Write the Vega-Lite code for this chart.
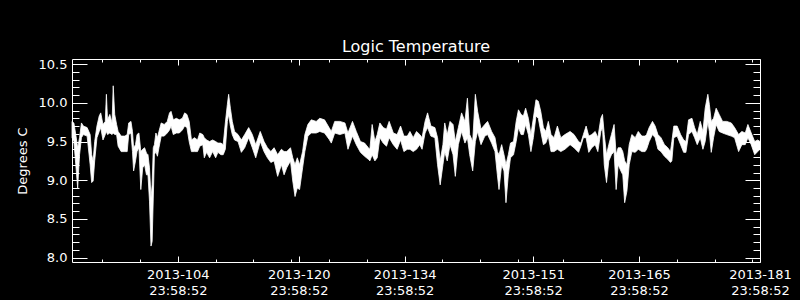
{
  "$schema": "https://vega.github.io/schema/vega-lite/v6.json",
  "width": 688,
  "height": 203,
  "autosize": {"type": "none"},
  "padding": {"left": 72, "top": 59, "right": 40, "bottom": 38},
  "background": "black",
  "title": {"text": "Logic Temperature", "color": "white", "font": "DejaVu Sans", "fontSize": 16, "fontWeight": "normal", "offset": 7, "dy": 17, "baseline": "alphabetic", "anchor": "middle", "frame": "group"},
  "config": {
    "view": {"stroke": null},
    "axis": {"grid": false, "tickColor": "white", "domainColor": "white", "labelColor": "white", "titleColor": "white", "labelFont": "DejaVu Sans", "titleFont": "DejaVu Sans", "tickWidth": 1, "domainWidth": 1}
  },
  "data": {"values": [
    {"day":90.0,"hi":9.76,"lo":9.55},{"day":90.25,"hi":9.74,"lo":9.50},{"day":90.5,"hi":9.59,"lo":9.20},{"day":90.75,"hi":9.42,"lo":8.90},
    {"day":91.0,"hi":9.55,"lo":9.33},{"day":91.25,"hi":9.74,"lo":9.55},{"day":91.5,"hi":9.70,"lo":9.59},{"day":92.0,"hi":9.68,"lo":9.57},
    {"day":92.4,"hi":9.59,"lo":9.20},{"day":92.6,"hi":9.33,"lo":8.97},{"day":92.8,"hi":9.25,"lo":8.99},{"day":93.0,"hi":9.50,"lo":9.25},
    {"day":93.3,"hi":9.70,"lo":9.55},{"day":93.6,"hi":9.83,"lo":9.63},{"day":93.8,"hi":9.87,"lo":9.68},{"day":94.1,"hi":9.72,"lo":9.52},
    {"day":94.4,"hi":9.76,"lo":9.59},{"day":94.55,"hi":10.11,"lo":9.63},{"day":94.7,"hi":9.78,"lo":9.59},{"day":95.0,"hi":9.85,"lo":9.61},
    {"day":95.3,"hi":9.74,"lo":9.59},{"day":95.45,"hi":10.22,"lo":9.61},{"day":95.65,"hi":9.85,"lo":9.59},{"day":95.9,"hi":9.72,"lo":9.59},
    {"day":96.1,"hi":9.63,"lo":9.44},{"day":96.5,"hi":9.57,"lo":9.37},{"day":97.0,"hi":9.57,"lo":9.37},{"day":97.3,"hi":9.59,"lo":9.37},
    {"day":97.5,"hi":9.74,"lo":9.59},{"day":97.8,"hi":9.76,"lo":9.61},{"day":98.0,"hi":9.63,"lo":9.37},{"day":98.15,"hi":9.42,"lo":9.12},
    {"day":98.4,"hi":9.46,"lo":9.25},{"day":98.6,"hi":9.59,"lo":9.37},{"day":98.85,"hi":9.61,"lo":9.42},{"day":99.1,"hi":9.37,"lo":8.88},
    {"day":99.35,"hi":9.40,"lo":9.16},{"day":99.6,"hi":9.42,"lo":9.20},{"day":99.85,"hi":9.35,"lo":9.07},{"day":100.05,"hi":9.33,"lo":9.07},
    {"day":100.25,"hi":9.16,"lo":8.73},{"day":100.45,"hi":8.77,"lo":8.15},{"day":100.6,"hi":8.94,"lo":8.21},{"day":100.75,"hi":9.42,"lo":8.77},
    {"day":100.9,"hi":9.46,"lo":9.33},{"day":101.1,"hi":9.61,"lo":9.37},{"day":101.3,"hi":9.55,"lo":9.31},{"day":101.5,"hi":9.63,"lo":9.42},
    {"day":101.8,"hi":9.74,"lo":9.57},{"day":102.2,"hi":9.72,"lo":9.57},{"day":102.6,"hi":9.76,"lo":9.61},{"day":102.9,"hi":9.87,"lo":9.65},
    {"day":103.1,"hi":9.89,"lo":9.70},{"day":103.4,"hi":9.78,"lo":9.59},{"day":103.8,"hi":9.80,"lo":9.61},{"day":104.2,"hi":9.78,"lo":9.61},
    {"day":104.6,"hi":9.80,"lo":9.65},{"day":104.9,"hi":9.87,"lo":9.70},{"day":105.2,"hi":9.85,"lo":9.68},{"day":105.5,"hi":9.76,"lo":9.50},
    {"day":105.8,"hi":9.52,"lo":9.37},{"day":106.2,"hi":9.55,"lo":9.37},{"day":106.6,"hi":9.52,"lo":9.37},{"day":106.9,"hi":9.61,"lo":9.44},
    {"day":107.3,"hi":9.59,"lo":9.46},{"day":107.5,"hi":9.55,"lo":9.29},{"day":107.8,"hi":9.52,"lo":9.36},{"day":108.2,"hi":9.50,"lo":9.29},
    {"day":108.6,"hi":9.52,"lo":9.37},{"day":109.0,"hi":9.50,"lo":9.29},{"day":109.3,"hi":9.48,"lo":9.36},{"day":109.7,"hi":9.48,"lo":9.33},
    {"day":110.0,"hi":9.46,"lo":9.33},{"day":110.28,"hi":9.74,"lo":9.40},{"day":110.55,"hi":9.98,"lo":9.76},{"day":110.72,"hi":10.11,"lo":9.85},
    {"day":110.95,"hi":9.93,"lo":9.70},{"day":111.2,"hi":9.76,"lo":9.59},{"day":111.5,"hi":9.63,"lo":9.52},{"day":111.96,"hi":9.59,"lo":9.50},
    {"day":112.4,"hi":9.52,"lo":9.36},{"day":112.84,"hi":9.59,"lo":9.42},{"day":113.37,"hi":9.68,"lo":9.55},{"day":113.85,"hi":9.59,"lo":9.42},
    {"day":114.3,"hi":9.46,"lo":9.29},{"day":114.9,"hi":9.63,"lo":9.50},{"day":115.4,"hi":9.50,"lo":9.37},{"day":115.85,"hi":9.42,"lo":9.29},
    {"day":116.3,"hi":9.37,"lo":9.23},{"day":116.73,"hi":9.42,"lo":9.25},{"day":117.2,"hi":9.33,"lo":9.05},{"day":117.7,"hi":9.40,"lo":9.20},
    {"day":118.05,"hi":9.37,"lo":9.07},{"day":118.4,"hi":9.37,"lo":9.16},{"day":118.9,"hi":9.42,"lo":9.25},{"day":119.2,"hi":9.29,"lo":8.99},
    {"day":119.5,"hi":9.20,"lo":8.79},{"day":119.8,"hi":9.29,"lo":8.90},{"day":120.1,"hi":9.20,"lo":8.88},{"day":120.5,"hi":9.37,"lo":9.16},
    {"day":120.8,"hi":9.59,"lo":9.37},{"day":121.2,"hi":9.72,"lo":9.57},{"day":121.65,"hi":9.78,"lo":9.61},{"day":122.3,"hi":9.76,"lo":9.61},
    {"day":122.77,"hi":9.80,"lo":9.63},{"day":123.4,"hi":9.78,"lo":9.61},{"day":124.0,"hi":9.68,"lo":9.53},{"day":124.3,"hi":9.63,"lo":9.48},
    {"day":124.75,"hi":9.76,"lo":9.61},{"day":125.42,"hi":9.76,"lo":9.59},{"day":126.1,"hi":9.74,"lo":9.61},{"day":126.5,"hi":9.61,"lo":9.40},
    {"day":127.1,"hi":9.76,"lo":9.57},{"day":127.6,"hi":9.63,"lo":9.46},{"day":128.15,"hi":9.50,"lo":9.36},{"day":128.7,"hi":9.48,"lo":9.31},
    {"day":129.2,"hi":9.42,"lo":9.27},{"day":129.4,"hi":9.40,"lo":9.25},{"day":129.7,"hi":9.72,"lo":9.33},{"day":130.06,"hi":9.50,"lo":9.25},
    {"day":130.37,"hi":9.59,"lo":9.29},{"day":130.72,"hi":9.74,"lo":9.55},{"day":131.16,"hi":9.68,"lo":9.48},{"day":131.6,"hi":9.66,"lo":9.44},
    {"day":131.95,"hi":9.76,"lo":9.55},{"day":132.5,"hi":9.61,"lo":9.46},{"day":133.0,"hi":9.59,"lo":9.40},{"day":133.46,"hi":9.70,"lo":9.52},
    {"day":133.9,"hi":9.57,"lo":9.37},{"day":134.35,"hi":9.57,"lo":9.40},{"day":134.7,"hi":9.63,"lo":9.40},{"day":135.13,"hi":9.55,"lo":9.37},
    {"day":135.57,"hi":9.63,"lo":9.40},{"day":136.0,"hi":9.59,"lo":9.46},{"day":136.3,"hi":9.55,"lo":9.40},{"day":136.7,"hi":9.76,"lo":9.61},
    {"day":137.03,"hi":9.87,"lo":9.68},{"day":137.47,"hi":9.70,"lo":9.57},{"day":138.0,"hi":9.68,"lo":9.55},{"day":138.35,"hi":9.55,"lo":9.20},
    {"day":138.7,"hi":9.25,"lo":8.94},{"day":139.06,"hi":9.46,"lo":9.20},{"day":139.3,"hi":9.74,"lo":9.37},{"day":139.63,"hi":9.59,"lo":9.25},
    {"day":140.0,"hi":9.76,"lo":9.46},{"day":140.4,"hi":9.72,"lo":9.33},{"day":140.7,"hi":9.50,"lo":9.05},{"day":141.1,"hi":9.68,"lo":9.46},
    {"day":141.53,"hi":9.87,"lo":9.63},{"day":141.97,"hi":9.76,"lo":9.48},{"day":142.3,"hi":10.06,"lo":9.55},{"day":142.6,"hi":9.59,"lo":9.33},
    {"day":143.0,"hi":9.50,"lo":9.12},{"day":143.35,"hi":10.11,"lo":9.50},{"day":143.65,"hi":9.89,"lo":9.63},{"day":144.1,"hi":9.66,"lo":9.46},
    {"day":144.6,"hi":9.72,"lo":9.57},{"day":144.97,"hi":9.76,"lo":9.59},{"day":145.5,"hi":9.63,"lo":9.48},{"day":145.95,"hi":9.55,"lo":9.37},
    {"day":146.26,"hi":9.37,"lo":9.07},{"day":146.48,"hi":9.33,"lo":8.88},{"day":146.83,"hi":9.46,"lo":9.20},{"day":147.14,"hi":9.33,"lo":9.12},
    {"day":147.4,"hi":9.20,"lo":8.71},{"day":147.71,"hi":9.33,"lo":9.07},{"day":148.0,"hi":9.48,"lo":9.29},{"day":148.4,"hi":9.50,"lo":9.33},
    {"day":148.75,"hi":9.76,"lo":9.50},{"day":149.05,"hi":9.91,"lo":9.68},{"day":149.4,"hi":9.85,"lo":9.59},{"day":149.7,"hi":9.83,"lo":9.59},
    {"day":150.0,"hi":9.93,"lo":9.72},{"day":150.36,"hi":9.80,"lo":9.59},{"day":150.7,"hi":9.59,"lo":9.37},{"day":151.02,"hi":9.80,"lo":9.55},
    {"day":151.37,"hi":10.04,"lo":9.83},{"day":151.68,"hi":10.02,"lo":9.80},{"day":152.0,"hi":9.89,"lo":9.63},{"day":152.35,"hi":9.68,"lo":9.46},
    {"day":152.66,"hi":9.63,"lo":9.48},{"day":153.0,"hi":9.76,"lo":9.57},{"day":153.36,"hi":9.59,"lo":9.37},{"day":153.76,"hi":9.55,"lo":9.37},
    {"day":154.2,"hi":9.70,"lo":9.40},{"day":154.65,"hi":9.55,"lo":9.37},{"day":155.2,"hi":9.59,"lo":9.40},{"day":155.88,"hi":9.63,"lo":9.46},
    {"day":156.4,"hi":9.59,"lo":9.42},{"day":157.0,"hi":9.50,"lo":9.36},{"day":157.3,"hi":9.48,"lo":9.44},{"day":157.64,"hi":9.59,"lo":9.55},
    {"day":158.0,"hi":9.70,"lo":9.55},{"day":158.35,"hi":9.57,"lo":9.36},{"day":158.75,"hi":9.59,"lo":9.42},{"day":159.2,"hi":9.63,"lo":9.46},
    {"day":159.55,"hi":9.55,"lo":9.37},{"day":159.95,"hi":9.80,"lo":9.63},{"day":160.17,"hi":9.85,"lo":9.68},{"day":160.4,"hi":9.59,"lo":9.20},
    {"day":160.7,"hi":9.33,"lo":8.97},{"day":161.0,"hi":9.46,"lo":9.25},{"day":161.35,"hi":9.59,"lo":9.33},{"day":161.7,"hi":9.72,"lo":9.37},
    {"day":161.97,"hi":9.33,"lo":8.88},{"day":162.24,"hi":9.42,"lo":9.20},{"day":162.6,"hi":9.42,"lo":9.12},{"day":162.85,"hi":9.37,"lo":9.07},
    {"day":163.1,"hi":9.25,"lo":8.71},{"day":163.4,"hi":9.20,"lo":8.86},{"day":163.7,"hi":9.46,"lo":9.20},{"day":164.05,"hi":9.59,"lo":9.37},
    {"day":164.5,"hi":9.55,"lo":9.36},{"day":164.9,"hi":9.63,"lo":9.40},{"day":165.37,"hi":9.57,"lo":9.37},{"day":165.8,"hi":9.57,"lo":9.37},
    {"day":166.0,"hi":9.59,"lo":9.40},{"day":166.34,"hi":9.68,"lo":9.50},{"day":166.78,"hi":9.76,"lo":9.59},{"day":167.13,"hi":9.70,"lo":9.55},
    {"day":167.5,"hi":9.59,"lo":9.40},{"day":167.9,"hi":9.55,"lo":9.37},{"day":168.36,"hi":9.46,"lo":9.31},{"day":168.8,"hi":9.42,"lo":9.27},
    {"day":169.16,"hi":9.37,"lo":9.23},{"day":169.34,"hi":9.50,"lo":9.25},{"day":169.6,"hi":9.70,"lo":9.55},{"day":170.04,"hi":9.70,"lo":9.57},
    {"day":170.5,"hi":9.59,"lo":9.46},{"day":170.9,"hi":9.52,"lo":9.36},{"day":171.2,"hi":9.50,"lo":9.36},{"day":171.55,"hi":9.78,"lo":9.59},
    {"day":172.0,"hi":9.80,"lo":9.63},{"day":172.35,"hi":9.68,"lo":9.55},{"day":172.7,"hi":9.59,"lo":9.46},{"day":173.1,"hi":9.76,"lo":9.55},
    {"day":173.45,"hi":9.63,"lo":9.40},{"day":173.75,"hi":9.93,"lo":9.50},{"day":174.1,"hi":10.11,"lo":9.76},{"day":174.3,"hi":9.98,"lo":9.63},
    {"day":174.55,"hi":9.76,"lo":9.36},{"day":174.86,"hi":9.80,"lo":9.55},{"day":175.2,"hi":9.93,"lo":9.72},{"day":175.6,"hi":9.85,"lo":9.63},
    {"day":176.05,"hi":9.76,"lo":9.61},{"day":176.6,"hi":9.76,"lo":9.59},{"day":177.2,"hi":9.74,"lo":9.57},{"day":177.64,"hi":9.68,"lo":9.55},
    {"day":178.17,"hi":9.59,"lo":9.37},{"day":178.6,"hi":9.63,"lo":9.46},{"day":179.05,"hi":9.61,"lo":9.46},{"day":179.4,"hi":9.72,"lo":9.55},
    {"day":179.84,"hi":9.61,"lo":9.46},{"day":180.3,"hi":9.50,"lo":9.33},{"day":180.7,"hi":9.52,"lo":9.37},{"day":181.0,"hi":9.50,"lo":9.40}
  ]},
  "layer": [
    {
      "mark": {"type": "area", "color": "white", "stroke": "white", "strokeWidth": 0.8, "fillOpacity": 1},
      "encoding": {
        "x": {"field": "day", "type": "quantitative", "scale": {"domain": [90, 181], "nice": false, "zero": false},
          "axis": {"orient": "bottom", "values": [104, 120, 134, 151, 165, 181], "tickSize": -6, "domain": true, "labelFontSize": 13, "labelPadding": 12, "labelLineHeight": 16, "labelExpr": "['2013-' + datum.value, '23:58:52']", "labelFlush": false, "labelOverlap": false, "title": null}},
        "y": {"field": "hi", "type": "quantitative", "scale": {"domain": [7.944, 10.566], "nice": false, "zero": false},
          "axis": {"orient": "left", "values": [8, 8.5, 9, 9.5, 10, 10.5], "format": ".1f", "tickSize": -15, "domain": true, "labelFontSize": 13, "labelPadding": 20, "labelFlush": false, "labelOverlap": false, "title": "Degrees C", "titleFontSize": 13, "titleFontWeight": "normal", "titlePadding": 9}},
        "y2": {"field": "lo"}
      }
    },
    {
      "mark": {"type": "point", "opacity": 0},
      "encoding": {
        "x": {"field": "day", "type": "quantitative", "scale": {"domain": [90, 181], "nice": false, "zero": false},
          "axis": {"orient": "top", "values": [104, 120, 134, 151, 165, 181], "tickSize": -6, "domain": true, "labels": false, "title": null}},
        "y": {"field": "hi", "type": "quantitative", "scale": {"domain": [7.944, 10.566], "nice": false, "zero": false},
          "axis": {"orient": "right", "values": [8, 8.5, 9, 9.5, 10, 10.5], "tickSize": -15, "domain": true, "labels": false, "title": null}}
      }
    },
    {
      "mark": {"type": "point", "opacity": 0},
      "encoding": {
        "x": {"field": "day", "type": "quantitative", "scale": {"domain": [90, 181], "nice": false, "zero": false},
          "axis": {"orient": "bottom", "values": [94, 99, 109, 114, 119, 124, 129, 139, 144, 149, 155, 160, 170, 175, 180], "tickSize": -3, "domain": false, "labels": false, "title": null}},
        "y": {"field": "hi", "type": "quantitative", "scale": {"domain": [7.944, 10.566], "nice": false, "zero": false},
          "axis": {"orient": "left", "values": [8.1, 8.2, 8.3, 8.4, 8.6, 8.7, 8.8, 8.9, 9.1, 9.2, 9.3, 9.4, 9.6, 9.7, 9.8, 9.9, 10.1, 10.2, 10.3, 10.4], "tickSize": -7, "domain": false, "labels": false, "title": null}}
      }
    },
    {
      "mark": {"type": "point", "opacity": 0},
      "encoding": {
        "x": {"field": "day", "type": "quantitative", "scale": {"domain": [90, 181], "nice": false, "zero": false},
          "axis": {"orient": "top", "values": [94, 99, 109, 114, 119, 124, 129, 139, 144, 149, 155, 160, 170, 175, 180], "tickSize": -3, "domain": false, "labels": false, "title": null}},
        "y": {"field": "hi", "type": "quantitative", "scale": {"domain": [7.944, 10.566], "nice": false, "zero": false},
          "axis": {"orient": "right", "values": [8.1, 8.2, 8.3, 8.4, 8.6, 8.7, 8.8, 8.9, 9.1, 9.2, 9.3, 9.4, 9.6, 9.7, 9.8, 9.9, 10.1, 10.2, 10.3, 10.4], "tickSize": -7, "domain": false, "labels": false, "title": null}}
      }
    }
  ],
  "resolve": {"axis": {"x": "independent", "y": "independent"}}
}
